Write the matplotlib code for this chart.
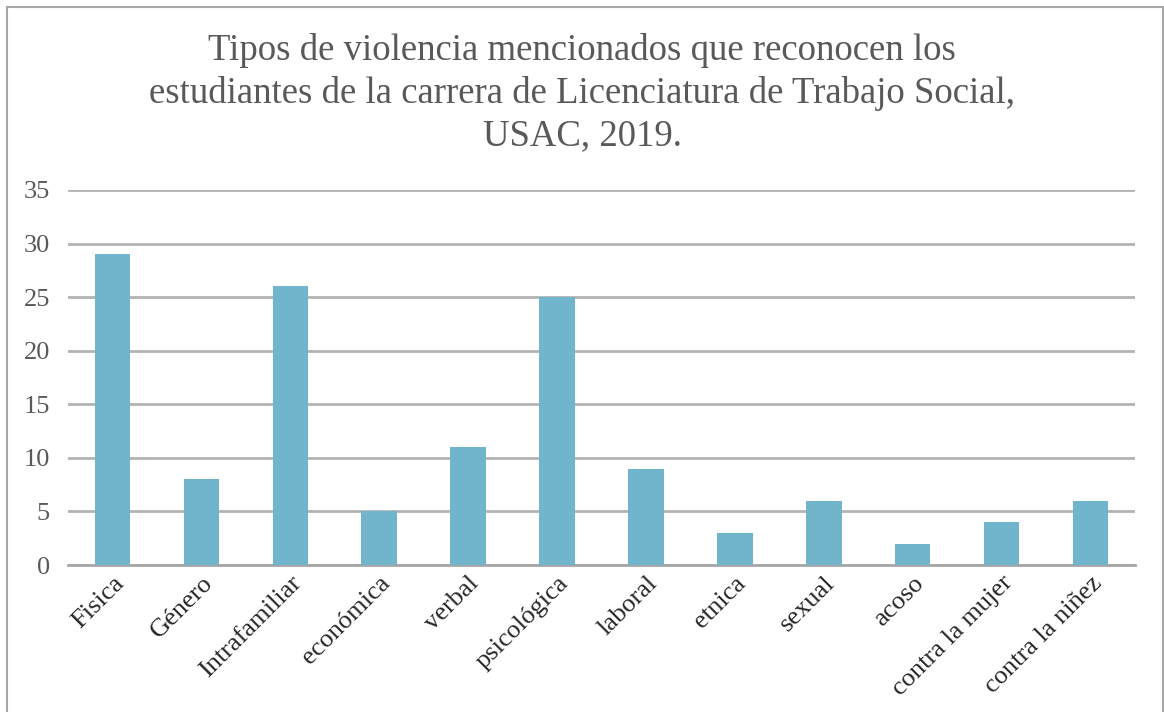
import matplotlib.pyplot as plt
from matplotlib.patches import Rectangle

categorias = ['Fisica', 'Género', 'Intrafamiliar', 'económica', 'verbal', 'psicológica',
              'laboral', 'etnica', 'sexual', 'acoso', 'contra la mujer', 'contra la niñez']
valores = [29, 8, 26, 5, 11, 25, 9, 3, 6, 2, 4, 6]
yticks = [0, 5, 10, 15, 20, 25, 30, 35]
titulo = ('Tipos de violencia mencionados que reconocen los\n'
          'estudiantes de la carrera de Licenciatura de Trabajo Social,\n'
          'USAC, 2019.')

plt.rcParams['font.family'] = ['Liberation Serif', 'DejaVu Serif']

W, H = 1164, 712
fig = plt.figure(figsize=(W / 100, H / 100), dpi=100)

# marco exterior del gráfico
fig.patches.append(Rectangle((7 / W, -0.05), (1163 - 7) / W, 1.05 - 7 / H,
                             transform=fig.transFigure, fill=False,
                             edgecolor='#A6A6A6', linewidth=1.5))

ax = fig.add_axes([68 / W, 1 - 565 / H, (1135 - 68) / W, (565 - 190) / H])
x = range(len(categorias))
ax.bar(x, valores, width=0.4, color='#70B5CC', zorder=3)

ax.set_xlim(-0.5, len(categorias) - 0.5)
ax.set_ylim(0, 35)
ax.set_yticks(yticks)
ax.set_yticklabels([str(v) for v in yticks], fontsize=19, color='#595959')
ax.set_xticks(list(x))
ax.set_xticklabels(categorias, rotation=45, ha='right', rotation_mode='anchor',
                   fontsize=19, color='#262626')
ax.tick_params(axis='both', length=0)
ax.tick_params(axis='y', pad=13)
ax.tick_params(axis='x', pad=5)

ax.grid(axis='y', color='#B3B3B3', linewidth=2, zorder=0)
for s in ['top', 'right', 'left']:
    ax.spines[s].set_visible(False)
ax.spines['bottom'].set_color('#A6A6A6')
ax.spines['bottom'].set_linewidth(2)

fig.text(0.5, 1 - 33 / H, titulo, ha='center', va='top', fontsize=26.5,
         color='#595959', linespacing=1.3)

fig.savefig('out.png', dpi=100)
